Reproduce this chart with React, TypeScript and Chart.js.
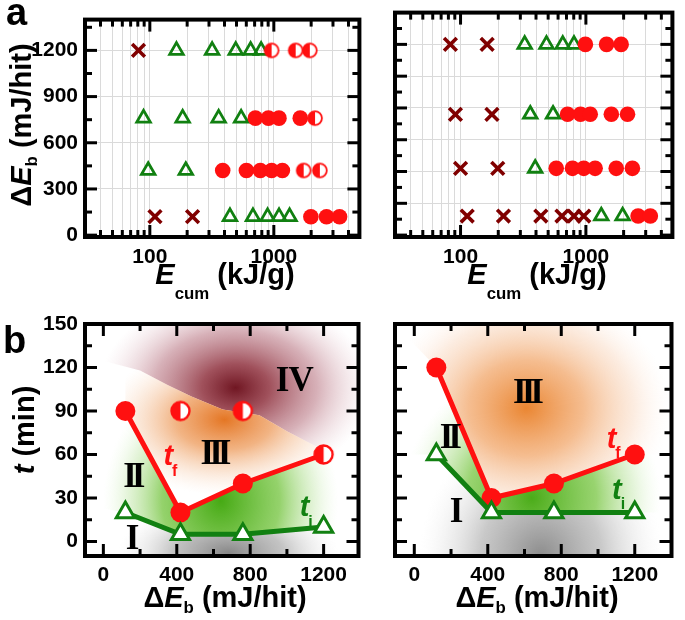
import React, { useEffect, useRef } from 'react';
import { Chart, registerables } from 'chart.js';
Chart.register(...registerables);

const SANS = "'Liberation Sans', Arial, Helvetica, sans-serif";
const SERIF = "'Liberation Serif', 'Times New Roman', serif";
const RED = '#ff1010';
const DARK_RED = '#800000';
const GREEN = '#118011';

// ---------- Panel a data: [E_cum (kJ/g), ΔE_b (mJ/hit)] ----------
const aLeftUnchanged = [[81, 1200], [110, 120], [221, 120]];
const aLeftInduction = [[164, 1200], [318, 1200], [493, 1200], [650, 1200], [790, 1200], [89, 760], [184, 760], [359, 760], [545, 760], [97, 420], [195, 420], [443, 120], [679, 120], [891, 120], [1102, 120], [1340, 120]];
const aLeftFailed = [[710, 760], [905, 760], [1100, 760], [1634, 760], [387, 420], [601, 420], [778, 420], [960, 420], [1172, 420], [1990, 120], [2661, 120], [3390, 120]];
const aLeftPartial = [[960, 1200], [1500, 1200], [1950, 1200], [2150, 760], [1740, 420], [2350, 420]];

const aRightUnchanged = [[83, 1200], [163, 1200], [91, 760], [178, 760], [100, 420], [198, 420], [113, 120], [220, 120], [437, 120], [644, 120], [804, 120], [962, 120]];
const aRightInduction = [[325, 1200], [485, 1200], [654, 1200], [804, 1200], [360, 760], [547, 760], [394, 420], [1327, 120], [1963, 120]];
const aRightFailed = [[991, 1200], [1462, 1200], [1911, 1200], [714, 760], [906, 760], [1083, 760], [1596, 760], [2148, 760], [580, 420], [782, 420], [962, 420], [1185, 420], [1746, 420], [2350, 420], [2611, 120], [3266, 120]];
const aRightPartial: number[][] = [];

// ---------- Panel b data ----------
const bDeltaE = [120, 420, 760, 1200];
const bLeftTf = [90, 20, 40, 60];
const bLeftTi = [20, 5, 5, 10];
const bLeftPartialX = [420, 760];
const bLeftPartialT = [90, 90];
const bRightTf = [120, 30, 40, 60];
const bRightTi = [60, 20, 20, 20];

// ---------- Tick values ----------
const aXMajor = [100, 1000];
const aXMinor = [40, 50, 60, 70, 80, 90, 200, 300, 400, 500, 600, 700, 800, 900, 2000, 3000, 4000];
const aLeftYMajor = [0, 300, 600, 900, 1200];
const aLeftYMinor = [150, 450, 750, 1050, 1350];
const aRightYMajor = [0, 200, 400, 600, 800, 1000, 1200];
const aRightYMinor = [100, 300, 500, 700, 900, 1100, 1300];
const bXMajor = [0, 400, 800, 1200];
const bXMinor = [200, 600, 1000];
const bYMajor = [0, 30, 60, 90, 120, 150];
const bYMinor = [15, 45, 75, 105, 135];

// ---------- Shaded regions of panel b (data coordinates) ----------
type Shade = { poly: number[][]; cx: number; cy: number; rx: number; ry: number; stops: [number, string][] };
const bLeftShades: Shade[] = [
  {
    poly: [[-100, 150], [1390, 150], [1390, 56], [1200, 63], [1000, 76], [850, 87], [650, 91], [480, 100], [350, 108], [200, 118], [-100, 128]],
    cx: 720, cy: 106, rx: 740, ry: 66,
    stops: [[0, 'rgba(112,22,34,1)'], [0.25, 'rgba(150,62,74,0.9)'], [0.6, 'rgba(190,128,140,0.62)'], [1, 'rgba(230,200,208,0)']],
  },
  {
    poly: [[120, 90], [420, 20], [760, 40], [1200, 60], [1390, 62], [1390, 56], [1200, 63], [1000, 76], [850, 87], [650, 91], [480, 100], [350, 108], [200, 118], [120, 122]],
    cx: 660, cy: 84, rx: 660, ry: 52,
    stops: [[0, 'rgba(228,118,36,1)'], [0.4, 'rgba(238,158,96,0.78)'], [1, 'rgba(250,225,205,0)']],
  },
  {
    poly: [[-100, 100], [120, 90], [420, 20], [760, 40], [1200, 60], [1390, 62], [1390, 10], [1200, 10], [760, 5], [420, 5], [120, 20], [-100, 25]],
    cx: 640, cy: 28, rx: 640, ry: 90,
    stops: [[0, 'rgba(70,170,20,1)'], [0.5, 'rgba(125,200,75,0.82)'], [0.8, 'rgba(180,225,150,0.35)'], [1, 'rgba(220,245,205,0)']],
  },
  {
    poly: [[-100, -10], [1390, -10], [1390, 10], [1200, 10], [760, 5], [420, 5], [120, 20], [-100, 25]],
    cx: 680, cy: -8, rx: 600, ry: 38,
    stops: [[0, 'rgba(135,135,135,1)'], [0.5, 'rgba(170,170,170,0.7)'], [1, 'rgba(235,235,235,0)']],
  },
];
const bRightShades: Shade[] = [
  {
    poly: [[-105, 150], [1400, 150], [1400, 60], [1200, 60], [760, 40], [420, 30], [120, 120], [-105, 150]],
    cx: 610, cy: 92, rx: 780, ry: 82,
    stops: [[0, 'rgba(234,134,50,1)'], [0.4, 'rgba(242,170,112,0.78)'], [0.75, 'rgba(248,210,182,0.42)'], [1, 'rgba(255,240,230,0)']],
  },
  {
    poly: [[-105, 110], [120, 120], [420, 30], [760, 40], [1200, 60], [1400, 60], [1400, 20], [1200, 20], [760, 20], [420, 20], [120, 60], [-105, 60]],
    cx: 640, cy: 30, rx: 700, ry: 90,
    stops: [[0, 'rgba(75,172,25,1)'], [0.5, 'rgba(130,202,80,0.82)'], [0.8, 'rgba(180,225,150,0.35)'], [1, 'rgba(220,245,205,0)']],
  },
  {
    poly: [[-105, -10], [1400, -10], [1400, 20], [1200, 20], [760, 20], [420, 20], [120, 60], [-105, 60]],
    cx: 690, cy: -10, rx: 660, ry: 90,
    stops: [[0, 'rgba(140,140,140,1)'], [0.5, 'rgba(178,178,178,0.7)'], [1, 'rgba(235,235,235,0)']],
  },
];

type Note = { text: string; sub?: string; color?: string; x: number; y: number };
const bLeftNotes: Note[] = [
  { text: 'IV', x: 1040, y: 110 },
  { text: 'III', x: 600, y: 60 },
  { text: 'II', x: 155, y: 44 },
  { text: 'I', x: 157, y: 1 },
  { text: 't', sub: 'f', color: RED, x: 368, y: 58 },
  { text: 't', sub: 'i', color: GREEN, x: 1108, y: 23 },
];
const bRightNotes: Note[] = [
  { text: 'III', x: 608, y: 102 },
  { text: 'II', x: 185, y: 71 },
  { text: 'I', x: 228, y: 20 },
  { text: 't', sub: 'f', color: RED, x: 1088, y: 70 },
  { text: 't', sub: 'i', color: GREEN, x: 1115, y: 35 },
];

// ---------- helpers ----------
const pts = (arr: number[][]) => arr.map(([x, y]) => ({ x, y }));

function halfCircle(r: number, lw: number) {
  const s = Math.ceil(2 * r + lw + 2);
  const c = document.createElement('canvas');
  c.width = s; c.height = s;
  const g = c.getContext('2d')!;
  const m = s / 2;
  g.beginPath(); g.arc(m, m, r, 0, Math.PI * 2); g.fillStyle = '#fff'; g.fill();
  g.beginPath(); g.moveTo(m, m); g.arc(m, m, r, Math.PI / 2, Math.PI * 1.5); g.closePath(); g.fillStyle = RED; g.fill();
  g.beginPath(); g.arc(m, m, r, 0, Math.PI * 2); g.lineWidth = lw; g.strokeStyle = RED; g.stroke();
  return c;
}

function framePlugin(t: { xMajor: number[]; xMinor: number[]; yMajor: number[]; yMinor: number[] }) {
  return {
    id: 'frame',
    afterDraw(chart: any) {
      const { ctx, chartArea: a, scales } = chart;
      const xs = scales.x, ys = scales.y;
      ctx.save();
      ctx.strokeStyle = '#000';
      ctx.lineWidth = 3;
      const seg = (x1: number, y1: number, x2: number, y2: number) => { ctx.beginPath(); ctx.moveTo(x1, y1); ctx.lineTo(x2, y2); ctx.stroke(); };
      const doX = (vals: number[], len: number) => vals.forEach((v) => {
        const p = xs.getPixelForValue(v);
        if (p < a.left - 1 || p > a.right + 1) return;
        seg(p, a.bottom, p, a.bottom - len); seg(p, a.top, p, a.top + len);
      });
      const doY = (vals: number[], len: number) => vals.forEach((v) => {
        const p = ys.getPixelForValue(v);
        if (p < a.top - 1 || p > a.bottom + 1) return;
        seg(a.left, p, a.left + len, p); seg(a.right, p, a.right - len, p);
      });
      doX(t.xMajor, 12); doX(t.xMinor, 7); doY(t.yMajor, 12); doY(t.yMinor, 7);
      ctx.lineWidth = 4;
      ctx.strokeRect(a.left, a.top, a.right - a.left, a.bottom - a.top);
      ctx.restore();
    },
  };
}

function shadePlugin(shades: Shade[]) {
  return {
    id: 'shade',
    beforeDatasetsDraw(chart: any) {
      const { ctx, chartArea: a, scales: { x, y } } = chart;
      for (const s of shades) {
        ctx.save();
        ctx.beginPath(); ctx.rect(a.left, a.top, a.right - a.left, a.bottom - a.top); ctx.clip();
        ctx.beginPath();
        s.poly.forEach(([dx, dy], i) => {
          const px = x.getPixelForValue(dx), py = y.getPixelForValue(dy);
          if (i) ctx.lineTo(px, py); else ctx.moveTo(px, py);
        });
        ctx.closePath(); ctx.clip();
        const cx = x.getPixelForValue(s.cx), cy = y.getPixelForValue(s.cy);
        const rx = Math.abs(x.getPixelForValue(s.cx + s.rx) - cx);
        const ry = Math.abs(y.getPixelForValue(s.cy + s.ry) - cy);
        ctx.translate(cx, cy);
        ctx.scale(rx / ry, 1);
        const g = ctx.createRadialGradient(0, 0, 0, 0, 0, ry);
        s.stops.forEach(([o, c]) => g.addColorStop(o, c));
        ctx.fillStyle = g;
        ctx.fillRect(-ry, -ry, 2 * ry, 2 * ry);
        ctx.restore();
      }
    },
  };
}

function notesPlugin(notes: Note[]) {
  return {
    id: 'notes',
    afterDatasetsDraw(chart: any) {
      const { ctx, scales: { x, y } } = chart;
      ctx.save();
      ctx.textBaseline = 'middle';
      for (const n of notes) {
        const px = x.getPixelForValue(n.x), py = y.getPixelForValue(n.y);
        if (n.sub) {
          ctx.textAlign = 'left';
          ctx.font = `italic bold 29px ${SANS}`;
          const w1 = ctx.measureText(n.text).width;
          ctx.font = `bold 16px ${SANS}`;
          const w2 = ctx.measureText(n.sub).width;
          const x0 = px - (w1 + w2) / 2;
          ctx.fillStyle = n.color || '#000';
          ctx.font = `italic bold 29px ${SANS}`;
          ctx.fillText(n.text, x0, py);
          ctx.font = `bold 16px ${SANS}`;
          ctx.fillText(n.sub, x0 + w1 - 1, py + 14);
        } else {
          ctx.textAlign = 'center';
          ctx.font = `bold 35px ${SERIF}`;
          (ctx as any).letterSpacing = n.text === 'II' || n.text === 'III' ? '-5px' : '-1px';
          ctx.fillStyle = '#000';
          ctx.fillText(n.text, px, py);
          (ctx as any).letterSpacing = '0px';
        }
      }
      ctx.restore();
    },
  };
}

const tickFont = { family: SANS, size: 21, weight: 'bold' as const };

function buildA(isL: boolean, half: HTMLCanvasElement) {
  const cross = isL ? aLeftUnchanged : aRightUnchanged;
  const tri = isL ? aLeftInduction : aRightInduction;
  const full = isL ? aLeftFailed : aRightFailed;
  const part = isL ? aLeftPartial : aRightPartial;
  const yMajor = isL ? aLeftYMajor : aRightYMajor;
  const yMinor = isL ? aLeftYMinor : aRightYMinor;
  const xTicks = [...aXMinor, ...aXMajor].sort((p, q) => p - q);
  return {
    type: 'scatter',
    data: {
      datasets: [
        { data: pts(tri), pointStyle: 'triangle', pointRadius: 7.8, pointBorderColor: GREEN, pointBackgroundColor: 'rgba(0,0,0,0)', pointBorderWidth: 2.8, order: 3 },
        { data: pts(cross), pointStyle: 'crossRot', pointRadius: 9, pointBorderColor: DARK_RED, pointBackgroundColor: DARK_RED, pointBorderWidth: 3.6, order: 2 },
        { data: pts(full), pointStyle: 'circle', pointRadius: 7.8, pointBorderColor: RED, pointBackgroundColor: RED, pointBorderWidth: 0, order: 1 },
        { data: pts(part), pointStyle: half, pointRadius: 7.8, order: 0 },
      ],
    },
    options: {
      animation: false, responsive: false, devicePixelRatio: 1, events: [],
      layout: { padding: { top: 11, right: isL ? 6 : 5, left: 0, bottom: 0 } },
      plugins: { legend: { display: false }, tooltip: { enabled: false } },
      scales: {
        x: {
          type: 'logarithmic', min: 30, max: 4900,
          afterBuildTicks: (s: any) => { s.ticks = xTicks.map((v) => ({ value: v })); },
          afterFit: (s: any) => { s.height = 63; },
          grid: { color: '#dadada', lineWidth: 1, drawTicks: false },
          border: { display: false },
          ticks: { autoSkip: false, maxRotation: 0, minRotation: 0, padding: 8, color: '#000', font: tickFont, callback: (v: number) => (aXMajor.includes(v) ? String(v) : '') },
        },
        y: {
          type: 'linear', min: -12, max: 1400,
          afterBuildTicks: (s: any) => { s.ticks = yMajor.map((v) => ({ value: v })); },
          afterFit: (s: any) => { s.width = isL ? 85 : 23; },
          grid: { color: '#dadada', lineWidth: 1, drawTicks: false },
          border: { display: false },
          ticks: { display: isL, padding: 7, color: '#000', font: tickFont, callback: (v: number) => String(v) },
        },
      },
    },
    plugins: [framePlugin({ xMajor: aXMajor, xMinor: aXMinor, yMajor, yMinor })],
  };
}

function buildB(isL: boolean, half: HTMLCanvasElement) {
  const tf = isL ? bLeftTf : bRightTf;
  const ti = isL ? bLeftTi : bRightTi;
  const datasets: any[] = [
    { data: bDeltaE.map((x, i) => ({ x, y: ti[i] })), showLine: true, borderColor: GREEN, borderWidth: 5, pointStyle: 'triangle', pointRadius: 10.5, pointBackgroundColor: '#fff', pointBorderColor: GREEN, pointBorderWidth: 3, order: 0 },
    { data: bDeltaE.map((x, i) => ({ x, y: tf[i] })), showLine: true, borderColor: RED, borderWidth: 5, pointStyle: isL ? ['circle', 'circle', 'circle', half] : 'circle', pointRadius: 10, pointBackgroundColor: RED, pointBorderColor: RED, pointBorderWidth: 0, order: 1 },
  ];
  if (isL) {
    datasets.push({ data: bLeftPartialX.map((x, i) => ({ x, y: bLeftPartialT[i] })), showLine: false, pointStyle: half, pointRadius: 10, order: 1 });
  }
  return {
    type: 'scatter',
    data: { datasets },
    options: {
      animation: false, responsive: false, devicePixelRatio: 1, events: [],
      layout: { padding: { top: 24, right: isL ? 6 : 5, left: 0, bottom: 0 } },
      plugins: { legend: { display: false }, tooltip: { enabled: false } },
      scales: {
        x: {
          type: 'linear', min: isL ? -100 : -105, max: isL ? 1390 : 1400,
          afterBuildTicks: (s: any) => { s.ticks = bXMajor.map((v) => ({ value: v })); },
          afterFit: (s: any) => { s.height = 64; },
          grid: { display: false, drawTicks: false },
          border: { display: false },
          ticks: { autoSkip: false, maxRotation: 0, minRotation: 0, padding: 7, color: '#000', font: tickFont, callback: (v: number) => String(v) },
        },
        y: {
          type: 'linear', min: -10, max: 150,
          afterBuildTicks: (s: any) => { s.ticks = bYMajor.map((v) => ({ value: v })); },
          afterFit: (s: any) => { s.width = isL ? 85 : 23; },
          grid: { display: false, drawTicks: false },
          border: { display: false },
          ticks: { display: isL, padding: 7, color: '#000', font: tickFont, callback: (v: number) => String(v) },
        },
      },
    },
    plugins: [shadePlugin(isL ? bLeftShades : bRightShades), notesPlugin(isL ? bLeftNotes : bRightNotes), framePlugin({ xMajor: bXMajor, xMinor: bXMinor, yMajor: bYMajor, yMinor: bYMinor })],
  };
}

function ChartPanel({ left, top, width, height, build }: { left: number; top: number; width: number; height: number; build: () => any }) {
  const ref = useRef<HTMLCanvasElement>(null);
  useEffect(() => {
    const chart = new Chart(ref.current as HTMLCanvasElement, build());
    return () => chart.destroy();
  }, []);
  return <canvas ref={ref} width={width} height={height} style={{ position: 'absolute', left, top, width, height }} />;
}

const Sub = ({ children, drop }: { children: React.ReactNode; drop: number }) => (
  <span style={{ fontSize: '0.58em', verticalAlign: `-${drop}px`, lineHeight: 0 }}>{children}</span>
);

const titleStyle: React.CSSProperties = { position: 'absolute', font: `bold 29px ${SANS}`, lineHeight: '1', whiteSpace: 'nowrap', color: '#000' };

export default function App() {
  const halfA = useRef<HTMLCanvasElement | null>(null);
  const halfB = useRef<HTMLCanvasElement | null>(null);
  const getHalfA = () => (halfA.current ||= halfCircle(6.9, 1.8));
  const getHalfB = () => (halfB.current ||= halfCircle(9, 2.4));
  return (
    <div style={{ position: 'absolute', left: 0, top: 0, width: 685, height: 620, background: '#fff', overflow: 'hidden' }}>
      <ChartPanel left={0} top={0} width={372} height={300} build={() => buildA(true, getHalfA())} />
      <ChartPanel left={372} top={0} width={313} height={300} build={() => buildA(false, getHalfA())} />
      <ChartPanel left={0} top={300} width={372} height={320} build={() => buildB(true, getHalfB())} />
      <ChartPanel left={372} top={300} width={313} height={320} build={() => buildB(false, getHalfB())} />

      <div style={{ position: 'absolute', left: 6, top: -7, font: `bold 38px ${SANS}`, lineHeight: '1' }}>a</div>
      <div style={{ position: 'absolute', left: 3, top: 321, font: `bold 38px ${SANS}`, lineHeight: '1' }}>b</div>

      <div style={{ ...titleStyle, left: 225, top: 260, transform: 'translateX(-50%)' }}><i>E</i><Sub drop={15}>cum</Sub> (kJ/g)</div>
      <div style={{ ...titleStyle, left: 537, top: 260, transform: 'translateX(-50%)' }}><i>E</i><Sub drop={15}>cum</Sub> (kJ/g)</div>
      <div style={{ ...titleStyle, left: 225, top: 583, transform: 'translateX(-50%)' }}>Δ<i>E</i><Sub drop={6}>b</Sub> (mJ/hit)</div>
      <div style={{ ...titleStyle, left: 537, top: 583, transform: 'translateX(-50%)' }}>Δ<i>E</i><Sub drop={6}>b</Sub> (mJ/hit)</div>

      <div style={{ ...titleStyle, left: 21, top: 125, transform: 'translate(-50%,-50%) rotate(-90deg)' }}>Δ<i>E</i><Sub drop={6}>b</Sub> (mJ/hit)</div>
      <div style={{ ...titleStyle, left: 24, top: 430, transform: 'translate(-50%,-50%) rotate(-90deg)' }}><i>t</i> (min)</div>
    </div>
  );
}
